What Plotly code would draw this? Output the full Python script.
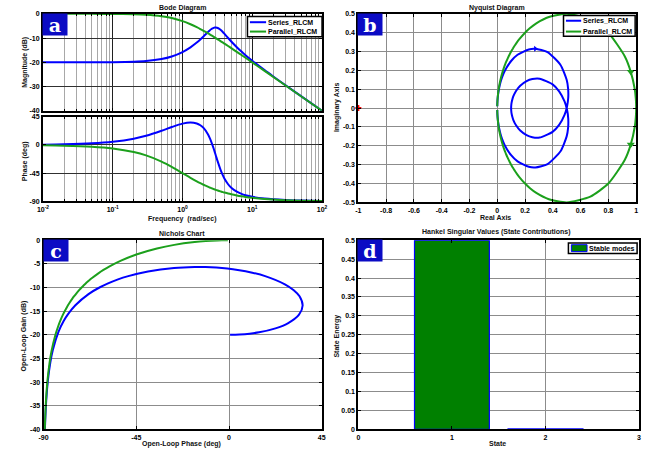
import numpy as np
import plotly.graph_objects as go

# ---------------- data ----------------
freq = [0.01, 0.02, 0.05, 0.1, 0.2, 0.3, 0.5, 0.7, 1, 1.3, 1.6, 1.8, 2, 2.3, 2.45, 2.6, 2.7, 2.8, 2.9,
        3, 3.2, 3.5, 3.8, 4, 4.5, 5, 6, 7, 8, 10, 15, 20, 30, 50, 100]
series_mag = [-20.0, -20.0, -19.98, -19.94, -19.76, -19.48, -18.64, -17.58, -15.75,
              -13.82, -11.86, -10.57, -9.31, -7.58, -6.85, -6.27, -5.98, -5.78, -5.67,
              -5.65, -5.85, -6.59, -7.58, -8.28, -9.94, -11.40, -13.75, -15.57, -17.04,
              -19.35, -23.23, -25.86, -29.47, -33.95, -39.99]
series_phase = [0.51, 1.02, 2.54, 5.07, 9.97, 14.58, 22.53, 28.53, 33.97,
                35.72, 34.22, 31.42, 27.11, 17.52, 11.29, 4.22, -0.86, -6.12, -11.43,
                -16.70, -26.68, -39.32, -48.91, -53.87, -62.65, -68.19, -74.57, -78.04, -80.20,
                -82.74, -85.52, -86.74, -87.87, -88.73, -89.37]
parallel_mag = [0.0, 0.0, -0.01, -0.04, -0.17, -0.37, -0.97, -1.74, -3.01,
                -4.30, -5.51, -6.27, -6.99, -7.99, -8.45, -8.90, -9.19, -9.47, -9.74,
                -10.00, -10.51, -11.22, -11.89, -12.30, -13.27, -14.15, -15.68, -16.99, -18.13,
                -20.04, -23.54, -26.03, -29.55, -33.98, -40.00]
parallel_phase = [-0.57, -1.15, -2.86, -5.71, -11.31, -16.70, -26.57, -34.99, -45.00,
                  -52.43, -57.99, -60.95, -63.43, -66.50, -67.80, -68.96, -69.68, -70.35, -70.97,
                  -71.57, -72.65, -74.05, -75.26, -75.96, -77.47, -78.69, -80.54, -81.87, -82.87,
                  -84.29, -86.19, -87.14, -88.09, -88.85, -89.43]
series_names = ["Series_RLCM", "Parallel_RLCM"]
bar_name = "Stable modes"
critical_point = [-1, 0]
hankel_states = [1, 2]
hankel_energy = [0.5, 0.001]
green_arrow_idx = 4      # omega = 0.2
blue_arrow_idx = 22      # omega = 3.8

BLUE = "#0000ff"
GREEN = "#1ca01c"
BAR_GREEN = "#008000"
W, H = 649, 452
FONT = "Liberation Sans, Arial"


def nyq(mag_db, ph_deg):
    a = 10 ** (np.array(mag_db) / 20.0)
    p = np.deg2rad(np.array(ph_deg))
    return a * np.cos(p), a * np.sin(p)


fig = go.Figure()
line_kw = dict(shape="spline", smoothing=0.8, width=2)
nyq_kw = dict(shape="spline", smoothing=0.6, width=2)

# Bode magnitude
fig.add_trace(go.Scatter(x=freq, y=series_mag, mode="lines", name=series_names[0],
                         line=dict(color=BLUE, **line_kw), xaxis="x", yaxis="y"))
fig.add_trace(go.Scatter(x=freq, y=parallel_mag, mode="lines", name=series_names[1],
                         line=dict(color=GREEN, **line_kw), xaxis="x", yaxis="y"))
# Bode phase
fig.add_trace(go.Scatter(x=freq, y=series_phase, mode="lines", name=series_names[0],
                         line=dict(color=BLUE, **line_kw), xaxis="x2", yaxis="y2"))
fig.add_trace(go.Scatter(x=freq, y=parallel_phase, mode="lines", name=series_names[1],
                         line=dict(color=GREEN, **line_kw), xaxis="x2", yaxis="y2"))

# Nyquist
for nm, mg, ph, col in [(series_names[0], series_mag, series_phase, BLUE),
                        (series_names[1], parallel_mag, parallel_phase, GREEN)]:
    re, im = nyq(mg, ph)
    xs = np.concatenate([re[::-1], re])
    ys = np.concatenate([-im[::-1], im])
    fig.add_trace(go.Scatter(x=xs, y=ys, mode="lines", name=nm,
                             line=dict(color=col, **nyq_kw), xaxis="x3", yaxis="y3"))

re_p, im_p = nyq(parallel_mag, parallel_phase)
fig.add_trace(go.Scatter(x=[re_p[green_arrow_idx], re_p[green_arrow_idx]],
                         y=[im_p[green_arrow_idx], -im_p[green_arrow_idx]], mode="markers",
                         marker=dict(symbol="triangle-down", size=7, color=GREEN),
                         xaxis="x3", yaxis="y3"))
re_s, im_s = nyq(series_mag, series_phase)
fig.add_trace(go.Scatter(x=[re_s[blue_arrow_idx]], y=[-im_s[blue_arrow_idx]], mode="markers",
                         marker=dict(symbol="triangle-right", size=5, color=BLUE),
                         xaxis="x3", yaxis="y3"))
fig.add_trace(go.Scatter(x=[critical_point[0]], y=[critical_point[1]], mode="markers",
                         marker=dict(symbol="cross", size=5, color="red"),
                         xaxis="x3", yaxis="y3", cliponaxis=False))

# Nichols
fig.add_trace(go.Scatter(x=series_phase, y=series_mag, mode="lines", name=series_names[0],
                         line=dict(color=BLUE, **line_kw), xaxis="x4", yaxis="y4"))
fig.add_trace(go.Scatter(x=parallel_phase, y=parallel_mag, mode="lines", name=series_names[1],
                         line=dict(color=GREEN, **line_kw), xaxis="x4", yaxis="y4"))

# Hankel singular values
fig.add_trace(go.Bar(x=hankel_states, y=hankel_energy, width=0.8, name=bar_name,
                     marker=dict(color=BAR_GREEN, line=dict(color=BLUE, width=1.2)),
                     xaxis="x5", yaxis="y5"))

# ---------------- layout ----------------
def px_x(a, b):
    return [a / W, b / W]


def px_y(top, bottom):
    return [1 - bottom / H, 1 - top / H]


tickfont = dict(family=FONT, size=7, color="black", weight="bold")
common = dict(showline=True, linecolor="black", linewidth=2, mirror="ticks", ticks="inside",
              ticklen=3, tickcolor="black", showgrid=True, gridcolor="#8c8c8c", gridwidth=1,
              zeroline=False, tickfont=tickfont, fixedrange=True)

decades = [0.01, 0.1, 1, 10, 100]
minor_vals = [k * d for d in decades[:-1] for k in range(2, 10)]
bode_x = dict(common, type="log", range=[-2, 2], tickvals=decades, gridcolor="#202020",
              minor=dict(tickvals=minor_vals, showgrid=True, gridcolor="#a8a8a8",
                         ticks="inside", ticklen=2, tickcolor="black"))

fig.update_layout(
    width=W, height=H, margin=dict(l=0, r=0, t=0, b=0),
    paper_bgcolor="white", plot_bgcolor="white", showlegend=False, bargap=0,
    xaxis=dict(bode_x, domain=px_x(37.7, 322), showticklabels=False, anchor="y"),
    yaxis=dict(common, domain=px_y(10, 108.5), range=[-40, 0], tickvals=[0, -10, -20, -30, -40],
               ticktext=["0", "-10", "-20", "-30", "-40"], gridcolor="#303030", anchor="x"),
    xaxis2=dict(bode_x, domain=px_x(37.7, 322), anchor="y2",
                ticktext=["10<sup>-2</sup>", "10<sup>-1</sup>", "10<sup>0</sup>", "10<sup>1</sup>", "10<sup>2</sup>"]),
    yaxis2=dict(common, domain=px_y(114.5, 200.5), range=[-90, 45], tickvals=[45, 0, -45, -90],
                ticktext=["45", "0", "-45", "-90"], gridcolor="#303030", anchor="x2"),
    xaxis3=dict(common, domain=px_x(359, 642), range=[-1, 1], anchor="y3",
                tickvals=[-1, -0.8, -0.6, -0.4, -0.2, 0, 0.2, 0.4, 0.6, 0.8, 1],
                ticktext=["-1", "-0.8", "-0.6", "-0.4", "-0.2", "0", "0.2", "0.4", "0.6", "0.8", "1"]),
    yaxis3=dict(common, domain=px_y(10, 201.5), range=[-0.5, 0.5], anchor="x3",
                tickvals=[-0.5, -0.4, -0.3, -0.2, -0.1, 0, 0.1, 0.2, 0.3, 0.4, 0.5],
                ticktext=["-0.5", "-0.4", "-0.3", "-0.2", "-0.1", "0", "0.1", "0.2", "0.3", "0.4", "0.5"]),
    xaxis4=dict(common, domain=px_x(38.3, 321.7), range=[-90, 45], anchor="y4",
                tickvals=[-90, -45, 0, 45], ticktext=["-90", "-45", "0", "45"]),
    yaxis4=dict(common, domain=px_y(240, 432), range=[-40, 0], anchor="x4",
                tickvals=[0, -5, -10, -15, -20, -25, -30, -35, -40],
                ticktext=["0", "-5", "-10", "-15", "-20", "-25", "-30", "-35", "-40"]),
    xaxis5=dict(common, domain=px_x(359, 645), range=[0, 3], anchor="y5",
                tickvals=[0, 1, 2, 3], ticktext=["0", "1", "2", "3"]),
    yaxis5=dict(common, domain=px_y(240, 432), range=[0, 0.5], anchor="x5",
                tickvals=[0, 0.05, 0.1, 0.15, 0.2, 0.25, 0.3, 0.35, 0.4, 0.45, 0.5],
                ticktext=["0", "0.05", "0.1", "0.15", "0.2", "0.25", "0.3", "0.35", "0.4", "0.45", "0.5"]),
)

# Titles and axis labels
lab_font = dict(family=FONT, size=7, color="#111111", weight="bold")
texts = [
    ("Bode Diagram", 180, 4, 0),
    ("Nyquist Diagram", 500, 4, 0),
    ("Nichols Chart", 179, 233, 0),
    ("Hankel Singular Values (State Contributions)", 500, 232, 0),
    ("Magnitude (dB)", 19, 59, -90),
    ("Phase (deg)", 19, 160, -90),
    ("Frequency  (rad/sec)", 179, 218, 0),
    ("Imaginary Axis", 338, 105, -90),
    ("Real Axis", 499, 217, 0),
    ("Open-Loop Gain (dB)", 18, 337, -90),
    ("Open-Loop Phase (deg)", 179, 447, 0),
    ("State Energy", 337, 337, -90),
    ("State", 501, 446, 0),
]
for t, x, y, ang in texts:
    fig.add_annotation(text=t, x=x / W, y=1 - y / H, xref="paper", yref="paper",
                       showarrow=False, textangle=ang, font=lab_font,
                       xanchor="center", yanchor="middle")

# Panel letters
for letter, x0, y0 in [("a", 38, 10), ("b", 359, 10), ("c", 38.5, 240), ("d", 359, 240)]:
    fig.add_annotation(text="<b>%s</b>" % letter, x=(x0 + 12) / W, y=1 - (y0 + 10.5) / H,
                       xref="paper", yref="paper", showarrow=False, width=24, height=21,
                       bgcolor="#0b0bc4", borderpad=0, xanchor="center", yanchor="middle",
                       font=dict(family="DejaVu Serif, Liberation Serif", size=19, color="white"))

# Compact legends (drawn as boxes, sample lines and text)
leg_font = dict(family=FONT, size=7, color="black", weight="bold")


def legend_box(x0, x1, y0, y1):
    fig.add_shape(type="rect", xref="paper", yref="paper", x0=x0 / W, x1=x1 / W,
                  y0=1 - y1 / H, y1=1 - y0 / H, fillcolor="white",
                  line=dict(color="black", width=1.5), layer="above")


def legend_text(t, x, y):
    fig.add_annotation(text=t, x=x / W, y=1 - y / H, xref="paper", yref="paper", showarrow=False,
                       xanchor="left", yanchor="middle", font=leg_font, borderpad=0)


for (bx0, bx1, by0, by1, lx0, lx1, tx, ys) in [(246, 322, 12.7, 33.3, 248.5, 265, 266, (18.5, 28)),
                                                (568, 641, 11.7, 32.7, 570.5, 586, 587, (17, 28))]:
    legend_box(bx0, bx1, by0, by1)
    for nm, col, yy in zip(series_names, [BLUE, GREEN], ys):
        fig.add_shape(type="line", xref="paper", yref="paper", x0=lx0 / W, x1=lx1 / W,
                      y0=1 - yy / H, y1=1 - yy / H, line=dict(color=col, width=2), layer="above")
        legend_text(nm, tx, yy)

legend_box(573, 643, 242.7, 253.3)
fig.add_shape(type="rect", xref="paper", yref="paper", x0=576 / W, x1=592 / W,
              y0=1 - 251.5 / H, y1=1 - 244.5 / H, fillcolor=BAR_GREEN,
              line=dict(color=BLUE, width=1), layer="above")
legend_text(bar_name, 593, 248)

fig.write_html("out.html", config={"displayModeBar": False, "staticPlot": True},
               post_script="document.body.style.margin='0px';document.body.style.overflow='hidden';")
